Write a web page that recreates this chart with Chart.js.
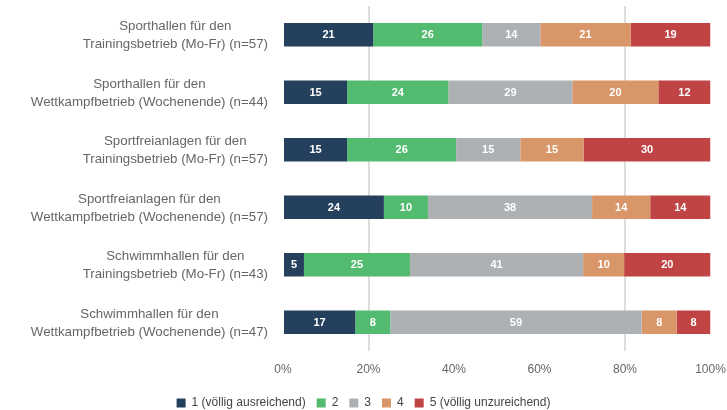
<!DOCTYPE html>
<html>
<head>
<meta charset="utf-8">
<script src="https://cdn.jsdelivr.net/npm/chart.js@4.4.0/dist/chart.umd.min.js"></script>
<style>
  html, body { margin: 0; padding: 0; background: #fff; }
  #wrap { width: 727px; height: 410px; position: relative; }
</style>
</head>
<body>
<div id="wrap"><canvas id="c"></canvas></div>
<script>
const categories = [
  ["Sporthallen für den", "Trainingsbetrieb (Mo-Fr) (n=57)"],
  ["Sporthallen für den", "Wettkampfbetrieb (Wochenende) (n=44)"],
  ["Sportfreianlagen für den", "Trainingsbetrieb (Mo-Fr) (n=57)"],
  ["Sportfreianlagen für den", "Wettkampfbetrieb (Wochenende) (n=57)"],
  ["Schwimmhallen für den", "Trainingsbetrieb (Mo-Fr) (n=43)"],
  ["Schwimmhallen für den", "Wettkampfbetrieb (Wochenende) (n=47)"]
];
const seriesNames = ["1 (völlig ausreichend)", "2", "3", "4", "5 (völlig unzureichend)"];
const s1 = [21.1, 15.0, 15.0, 23.6, 4.9, 16.9];
const s2 = [25.5, 23.7, 25.5, 10.3, 24.8, 8.2];
const s3 = [13.6, 29.0, 15.0, 38.4, 40.5, 58.8];
const s4 = [21.1, 20.1, 14.8, 13.6, 9.6, 8.2];
const s5 = [18.7, 12.2, 29.7, 14.1, 20.2, 7.9];
const xTicks = [0, 20, 40, 60, 80, 100];
const gridShown = [20, 80];

const colors = ["#25405c", "#53bb70", "#adb1b4", "#d99669", "#c04444"];
const allSeries = [s1, s2, s3, s4, s5];
const FONT = '"Liberation Sans", Arial, sans-serif';

const valueLabels = {
  id: 'valueLabels',
  afterDatasetsDraw(chart) {
    const ctx = chart.ctx;
    ctx.save();
    ctx.font = 'bold 11px ' + FONT;
    ctx.fillStyle = '#ffffff';
    ctx.textAlign = 'center';
    ctx.textBaseline = 'middle';
    chart.data.datasets.forEach((ds, di) => {
      const meta = chart.getDatasetMeta(di);
      meta.data.forEach((el, i) => {
        const p = el.getProps(['x', 'y', 'base'], true);
        ctx.fillText(String(Math.round(ds.data[i])), (p.x + p.base) / 2, p.y + 0.5);
      });
    });
    ctx.restore();
  }
};

const yLabels = {
  id: 'yLabels',
  afterDraw(chart) {
    const ctx = chart.ctx;
    const sc = chart.scales.y;
    const right = 268;
    const lh = 18;
    ctx.save();
    ctx.font = '13.3px ' + FONT;
    ctx.fillStyle = '#666666';
    ctx.textBaseline = 'middle';
    ctx.textAlign = 'center';
    chart.data.labels.forEach((lines, i) => {
      const yc = sc.getPixelForValue(i) + 1;
      const w = Math.max(...lines.map(l => ctx.measureText(l).width));
      const cx = right - w / 2;
      const top = yc - (lines.length - 1) * lh / 2;
      lines.forEach((l, k) => ctx.fillText(l, cx, top + k * lh));
    });
    ctx.restore();
  }
};

new Chart(document.getElementById('c'), {
  type: 'bar',
  data: {
    labels: categories,
    datasets: allSeries.map((d, i) => ({
      label: seriesNames[i],
      data: d,
      backgroundColor: colors[i],
      borderWidth: 0,
      categoryPercentage: 0.82,
      barPercentage: 0.5
    }))
  },
  options: {
    indexAxis: 'y',
    responsive: true,
    maintainAspectRatio: false,
    animation: false,
    layout: { padding: { top: 6, right: 0, left: 0, bottom: -9 } },
    plugins: {
      legend: {
        position: 'bottom',
        labels: {
          boxWidth: 9, boxHeight: 9, padding: 11,
          color: '#444',
          font: { size: 12, family: FONT }
        }
      },
      tooltip: { enabled: false }
    },
    scales: {
      x: {
        stacked: true,
        min: 0, max: 100,
        afterBuildTicks(s) { s.ticks = xTicks.map(v => ({ value: v })); },
        ticks: {
          callback: v => v + '%',
          color: '#666',
          font: { size: 12, family: FONT },
          padding: 11
        },
        grid: {
          color: c => gridShown.includes(c.tick && c.tick.value) ? '#dddddd' : 'rgba(0,0,0,0)',
          lineWidth: 2,
          drawTicks: false
        },
        border: { display: false },
        afterFit(s) { s.height = 35; s.paddingRight = 16.5; s.paddingLeft = 0; }
      },
      y: {
        stacked: true,
        grid: { display: false },
        border: { display: false },
        ticks: { display: false },
        afterFit(s) { s.width = 283; }
      }
    }
  },
  plugins: [valueLabels, yLabels]
});
</script>
</body>
</html>
